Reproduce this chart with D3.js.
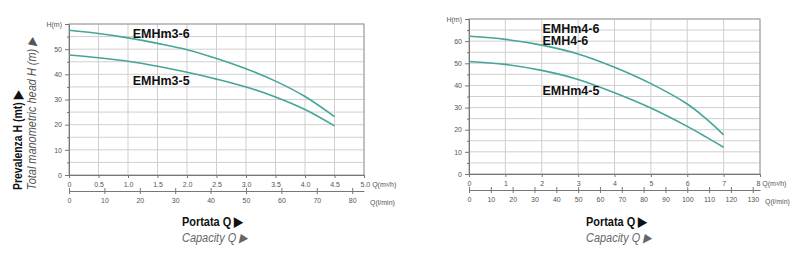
<!DOCTYPE html>
<html>
<head>
<meta charset="utf-8">
<script src="https://cdn.jsdelivr.net/npm/d3@7"></script>
<style>
    body { margin: 0; background: #fff; }
    svg { font-family: "Liberation Sans", Arial, sans-serif; }
    .grid line { stroke: #cfcfcf; stroke-width: 1; }
    .frame { fill: none; stroke: #9a9a9a; stroke-width: 1; }
    .tick text { fill: #555; font-size: 7px; }
    .curve { fill: none; stroke: #45a597; stroke-width: 1.6; }
    .curveLabel { font-weight: bold; font-size: 12.5px; fill: #111; }
</style>
</head>
<body>
<div id="chart"></div>
<script>
'use strict';

// Left chart (EMHm3) - flow m3/h vs head m
const flow3 = [0, 0.5, 1.0, 1.5, 2.0, 2.5, 3.0, 3.5, 4.0, 4.5];
const head3_6 = [57.5, 56.2, 54.5, 52.3, 49.8, 46.3, 42.2, 37.3, 31.2, 23.2];
const head3_5 = [47.7, 46.6, 45.2, 43.2, 40.8, 38.1, 35.0, 31.0, 26.0, 19.5];
const xTicks3 = [0, 0.5, 1.0, 1.5, 2.0, 2.5, 3.0, 3.5, 4.0, 4.5];
const lminTicks3 = [0, 10, 20, 30, 40, 50, 60, 70, 80];

// Right chart (EMHm4) - flow m3/h vs head m
const flow4 = [0, 1, 2, 3, 4, 5, 6, 6.5, 7];
const head4_6 = [62.2, 60.8, 58.2, 54.2, 48.2, 40.8, 31.6, 25.2, 17.7];
const head4_5 = [50.8, 49.5, 46.8, 42.7, 36.7, 29.8, 21.5, 16.9, 12.1];
const xTicks4 = [0, 1, 2, 3, 4, 5, 6, 7];
const lminTicks4 = [0, 10, 20, 30, 40, 50, 60, 70, 80, 90, 100, 110, 120, 130];

// Config svg
const w = 800;
const h = 255;
const svg = d3.select('#chart')
    .append('svg')
    .attr('width', w)
    .attr('height', h);

/*
drawChart
*/
function drawChart(cfg) {
    const g = svg.append('g');

    // Scales
    const x = d3.scaleLinear().domain([0, cfg.xMax]).range([cfg.left, cfg.right]);
    const y = d3.scaleLinear().domain([0, cfg.yMax]).range([cfg.bottom, cfg.top]);
    const xl = d3.scaleLinear().domain([0, cfg.xMax * 1000 / 60]).range([cfg.left, cfg.right]);

    // Grid
    const grid = g.append('g').attr('class', 'grid');
    grid.selectAll('.vg')
        .data(d3.range(cfg.xStep, cfg.xMax + 1e-9, cfg.xStep))
        .join('line')
        .attr('x1', d => x(d)).attr('x2', d => x(d))
        .attr('y1', cfg.top).attr('y2', cfg.bottom);
    grid.selectAll('.hg')
        .data(d3.range(5, cfg.yMax + 1e-9, 5))
        .join('line')
        .attr('x1', cfg.left).attr('x2', cfg.right)
        .attr('y1', d => y(d)).attr('y2', d => y(d));

    // Frame
    g.append('rect')
        .attr('class', 'frame')
        .attr('x', cfg.left).attr('y', cfg.top)
        .attr('width', cfg.right - cfg.left)
        .attr('height', cfg.bottom - cfg.top);

    // Y axis
    const yAxis = g.append('g')
        .attr('transform', `translate(${cfg.left},0)`)
        .call(d3.axisLeft(y)
            .tickValues(d3.range(0, cfg.yMax + 1, 10))
            .tickSize(4)
            .tickFormat(d => d === cfg.yMax ? 'H(m)' : d));
    yAxis.select('.domain').attr('stroke', '#777');
    yAxis.selectAll('.tick line').attr('stroke', '#777');
    g.append('g')
        .attr('transform', `translate(${cfg.left},0)`)
        .call(d3.axisLeft(y).tickValues(d3.range(5, cfg.yMax, 10)).tickSize(2).tickFormat(''))
        .call(a => a.select('.domain').remove())
        .selectAll('.tick line').attr('stroke', '#777');

    // X axis (m3/h)
    const xAxis = g.append('g')
        .attr('transform', `translate(0,${cfg.bottom})`)
        .call(d3.axisBottom(x)
            .tickValues(cfg.xTicks.concat([cfg.xMax]))
            .tickSize(3)
            .tickPadding(4)
            .tickFormat(d => d === cfg.xMax ? `${cfg.fmt(d)} Q(m³/h)` : cfg.fmt(d)));
    xAxis.select('.domain').attr('stroke', '#777');
    xAxis.selectAll('.tick line').attr('stroke', '#777');
    xAxis.selectAll('.tick text')
        .filter(d => d === cfg.xMax)
        .attr('text-anchor', 'start')
        .attr('dx', -4);

    // X axis (l/min)
    const lAxis = g.append('g')
        .attr('transform', `translate(0,${cfg.bottom + 16})`)
        .call(d3.axisBottom(xl)
            .tickValues(cfg.lTicks)
            .tickSizeInner(3)
            .tickSizeOuter(0)
            .tickPadding(4));
    lAxis.select('.domain').attr('stroke', '#777');
    lAxis.selectAll('.tick line').attr('stroke', '#777').attr('y1', -3);
    g.append('text')
        .attr('x', cfg.right + cfg.lUnitDx)
        .attr('y', cfg.bottom + 30)
        .attr('fill', '#555')
        .attr('font-size', '7px')
        .text('Q(l/min)');

    // Curves
    const line = d3.line()
        .x(d => x(d[0]))
        .y(d => y(d[1]))
        .curve(d3.curveCatmullRom);
    cfg.series.forEach(s => {
        g.append('path')
            .attr('class', 'curve')
            .attr('d', line(d3.zip(cfg.flow, s.values)));
    });

    // Curve labels
    cfg.labels.forEach(l => {
        g.append('text')
            .attr('class', 'curveLabel')
            .attr('x', x(l.x))
            .attr('y', y(l.y))
            .text(l.text);
    });

    // Axis title
    g.append('text')
        .attr('x', cfg.titleX)
        .attr('y', 226)
        .attr('font-size', '12.5px')
        .attr('font-weight', 'bold')
        .attr('fill', '#111')
        .attr('textLength', 61)
        .attr('lengthAdjust', 'spacingAndGlyphs')
        .text('Portata Q ▶');
    g.append('text')
        .attr('x', cfg.titleX)
        .attr('y', 242)
        .attr('font-size', '12.5px')
        .attr('font-style', 'italic')
        .attr('fill', '#666')
        .attr('textLength', 66)
        .attr('lengthAdjust', 'spacingAndGlyphs')
        .text('Capacity Q ▶');
}

// Left chart
drawChart({
    left: 69, right: 364, top: 24, bottom: 175,
    xMax: 5, xStep: 0.5, yMax: 60,
    xTicks: xTicks3, lTicks: lminTicks3,
    fmt: d => d === 0 ? '0' : d3.format('.1f')(d),
    lUnitDx: 6,
    flow: flow3,
    series: [{values: head3_6}, {values: head3_5}],
    labels: [
        {text: 'EMHm3-6', x: 1.08, y: 54.3},
        {text: 'EMHm3-5', x: 1.08, y: 35.8}
    ],
    titleX: 182
});

// Right chart
drawChart({
    left: 469, right: 760, top: 19, bottom: 174,
    xMax: 8, xStep: 1, yMax: 70,
    xTicks: xTicks4, lTicks: lminTicks4,
    fmt: d => d,
    lUnitDx: 5,
    flow: flow4,
    series: [{values: head4_6}, {values: head4_5}],
    labels: [
        {text: 'EMHm4-6', x: 2.02, y: 63.6},
        {text: 'EMH4-6', x: 2.02, y: 58.4},
        {text: 'EMHm4-5', x: 2.02, y: 35.9}
    ],
    titleX: 586
});

// Rotated y titles (left chart only)
svg.append('text')
    .attr('transform', 'translate(22,190) rotate(-90)')
    .attr('font-size', '12.5px')
    .attr('font-weight', 'bold')
    .attr('fill', '#111')
    .attr('textLength', 99)
    .attr('lengthAdjust', 'spacingAndGlyphs')
    .text('Prevalenza H (mt) ▶');
svg.append('text')
    .attr('transform', 'translate(36,190) rotate(-90)')
    .attr('font-size', '12.5px')
    .attr('font-style', 'italic')
    .attr('fill', '#555')
    .attr('textLength', 153)
    .attr('lengthAdjust', 'spacingAndGlyphs')
    .text('Total manometric head H (m) ▶');
</script>
</body>
</html>
